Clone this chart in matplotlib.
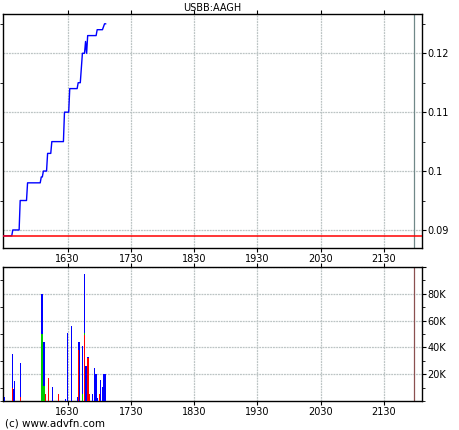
import numpy as np
import matplotlib
matplotlib.use('Agg')
import matplotlib.pyplot as plt
from matplotlib.ticker import FixedLocator, MultipleLocator

plt.rcParams['font.family'] = 'DejaVu Sans'
plt.rcParams['font.size'] = 7

# price (minutes since midnight, price)
price_t = [929, 937, 938, 944, 945, 951, 952, 964, 965, 966, 967, 970, 971, 974, 975,
           986, 987, 991, 992, 999, 1000, 1002, 1004, 1006, 1007, 1008, 1009, 1017,
           1018, 1023, 1025, 1026]
price_v = [0.089, 0.089, 0.090, 0.090, 0.095, 0.095, 0.098, 0.098, 0.099, 0.099, 0.100,
           0.100, 0.103, 0.103, 0.105, 0.105, 0.110, 0.110, 0.114, 0.114, 0.115, 0.115,
           0.120, 0.120, 0.122, 0.120, 0.123, 0.123, 0.124, 0.124, 0.125, 0.125]
prev_close = 0.089

# volume bars (thousands), stacked red / green / blue
vol_t = [930, 937.5, 938.5, 939.5, 945, 965.7, 967.6, 968.5, 971.6, 975.4, 981.1,
         987.8, 989.7, 993.4, 999.1, 1000.1, 1001.1, 1004.2, 1005.8, 1007.4, 1008.3,
         1009.3, 1010.9, 1013.3, 1015.2, 1016.2, 1016.9, 1018.1, 1020, 1021, 1022.8,
         1023.8, 1024.9, 1026]
vol_red = [0, 10, 0, 0, 3, 0, 0, 5, 17, 0, 5.5,
           0, 0, 0, 0, 38, 0, 0, 49, 0, 10,
           32, 5, 0, 0, 0, 0, 0, 5, 0, 0,
           0, 0, 0]
vol_green = [0, 0, 0, 0, 0, 50, 11, 0, 0, 0, 0,
             0, 0, 0, 0, 0, 0, 5, 1.5, 0, 0,
             0, 0, 0, 0, 0, 0, 0, 0, 0, 0,
             0, 0, 0]
vol_blue = [3, 25, 9, 15, 25.5, 30, 33, 0, 0, 10.5, 0,
            1.5, 50.7, 56, 3, 5.7, 43.7, 35.7, 44.5, 26, 0,
            1, 0, 5, 25, 20, 20, 2, 0, 16, 10.5,
            20, 20, 20]

xticks = [990, 1050, 1110, 1170, 1230, 1290]
xlabels = ['1630', '1730', '1830', '1930', '2030', '2130']
marker_t = 1318.5

fig = plt.figure(figsize=(4.6, 4.3), dpi=100)
ax1 = fig.add_axes([0.0065, 0.4233, 0.9109, 0.5442])
ax2 = fig.add_axes([0.0065, 0.0674, 0.9109, 0.3116])

grid_kw = dict(color='#bcc4c4', linewidth=0.9, linestyle=(0, (1.5, 0.7)))

# price panel
ax1.plot(price_t, price_v, color='#0000ff', lw=1.0, zorder=3)
ax1.axhline(prev_close, color='#ff0000', lw=1.1, zorder=3)
ax1.axvline(marker_t, color='#708888', lw=0.9, zorder=2)
ax1.set_xlim(928.7, 1326)
ax1.set_ylim(0.08694, 0.12667)
ax1.set_xticks(xticks)
ax1.set_xticklabels(xlabels)
ax1.set_yticks([0.09, 0.10, 0.11, 0.12])
ax1.set_yticklabels(['0.09', '0.1', '0.11', '0.12'])
ax1.yaxis.set_minor_locator(FixedLocator([0.095, 0.105, 0.115, 0.125]))
ax1.grid(True, **grid_kw)
ax1.set_title('USBB:AAGH', fontsize=7, pad=2)

# volume panel
bot_green = np.array(vol_red)
bot_blue = bot_green + np.array(vol_green)
bar_kw = dict(width=1.1, linewidth=0, antialiased=False, zorder=3)
ax2.bar(vol_t, vol_red, color='#ff0000', **bar_kw)
ax2.bar(vol_t, vol_green, bottom=bot_green, color='#00cc00', **bar_kw)
ax2.bar(vol_t, vol_blue, bottom=bot_blue, color='#0000ff', **bar_kw)
ax2.axvline(marker_t, color='#8b5050', lw=0.9, zorder=2)
ax2.set_xlim(928.7, 1326)
ax2.set_ylim(0, 100)
ax2.set_xticks(xticks)
ax2.set_xticklabels(xlabels)
ax2.set_yticks([20, 40, 60, 80, 100])
ax2.set_yticklabels(['20K', '40K', '60K', '80K', ''])
ax2.yaxis.set_minor_locator(MultipleLocator(10))
ax2.grid(True, **grid_kw)

for ax in (ax1, ax2):
    ax.yaxis.tick_right()
    ax.tick_params(axis='y', which='major', direction='out', length=3, pad=1,
                   labelsize=7, right=True, left=False)
    ax.tick_params(axis='y', which='minor', direction='out', length=2,
                   right=True, left=True)
    ax.tick_params(axis='x', which='major', direction='out', length=3, pad=1,
                   labelsize=7, top=True)
    for s in ax.spines.values():
        s.set_linewidth(1.0)
        s.set_color('black')

fig.text(0.011, 0.004, '(c) www.advfn.com', fontsize=7.5, ha='left', va='bottom')

plt.savefig('out.png', dpi=100)
